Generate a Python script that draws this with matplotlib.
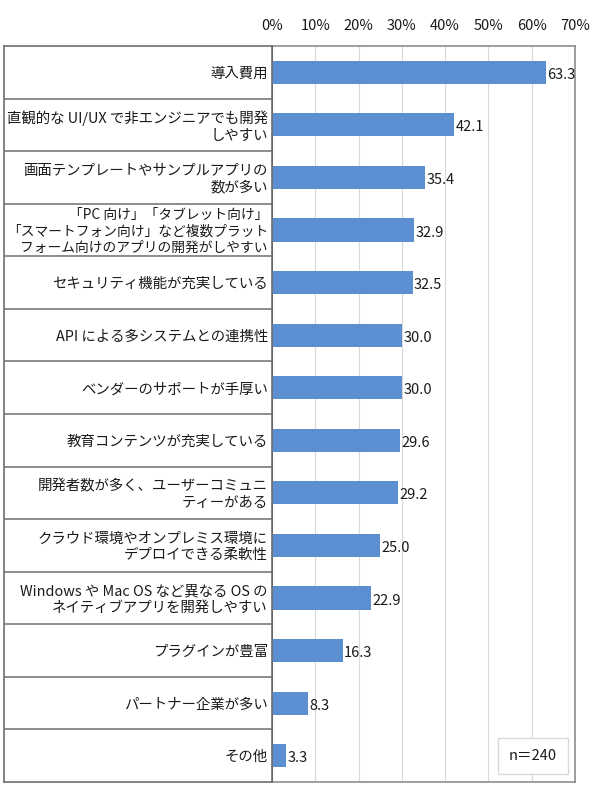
import matplotlib
matplotlib.use("Agg")
import matplotlib.pyplot as plt
import numpy as np

plt.rcParams['font.family'] = ['Noto Sans CJK JP', 'DejaVu Sans']

labels = [
    "導入費用",
    "直観的な UI/UX で非エンジニアでも開発\nしやすい",
    "画面テンプレートやサンプルアプリの\n数が多い",
    "「PC 向け」「タブレット向け」\n「スマートフォン向け」など複数プラット\nフォーム向けのアプリの開発がしやすい",
    "セキュリティ機能が充実している",
    "API による多システムとの連携性",
    "ベンダーのサポートが手厚い",
    "教育コンテンツが充実している",
    "開発者数が多く、ユーザーコミュニ\nティーがある",
    "クラウド環境やオンプレミス環境に\nデプロイできる柔軟性",
    "Windows や Mac OS など異なる OS の\nネイティブアプリを開発しやすい",
    "プラグインが豊富",
    "パートナー企業が多い",
    "その他",
]
values = [63.3, 42.1, 35.4, 32.9, 32.5, 30.0, 30.0, 29.6, 29.2, 25.0, 22.9, 16.3, 8.3, 3.3]
xticks = [0, 10, 20, 30, 40, 50, 60, 70]
note = "n＝240"

BAR_COLOR = '#5b8fd1'
TEXT_COLOR = '#1a1a1a'
W, H = 590, 795

fig = plt.figure(figsize=(W / 100, H / 100), dpi=100)

top_px, bot_px = 46, 782
left_px, mid_px, right_px = 4, 272, 575

ax = fig.add_axes([mid_px / W, 1 - bot_px / H, (right_px - mid_px) / W, (bot_px - top_px) / H])
lab = fig.add_axes([left_px / W, 1 - bot_px / H, (mid_px - left_px) / W, (bot_px - top_px) / H])

n = len(labels)
y = np.arange(n)

# bars
ax.barh(y, values, height=0.44, color=BAR_COLOR, zorder=3)
for yi, v in zip(y, values):
    ax.text(v + 0.3, yi + 0.05, "{:.1f}".format(v), va='center', ha='left',
            fontsize=10.5, color=TEXT_COLOR, zorder=4)

ax.set_xlim(0, 70)
ax.set_ylim(n - 0.5, -0.5)
ax.set_xticks(xticks)
ax.set_xticklabels(["{}%".format(t) for t in xticks])
ax.xaxis.tick_top()
ax.tick_params(axis='x', length=0, pad=9, labelsize=10.5, labelcolor=TEXT_COLOR)
ax.set_yticks([])
ax.grid(axis='x', color='#d9d9d9', linewidth=0.8, zorder=0)
for side in ['top', 'right', 'bottom']:
    ax.spines[side].set_color('#8c8c8c')
    ax.spines[side].set_linewidth(1.2)
ax.spines['left'].set_color('#222222')
ax.spines['left'].set_linewidth(1.2)

ax.text(60.3, 13.0, note, ha='center', va='center', fontsize=10.5, color=TEXT_COLOR,
        bbox=dict(boxstyle='square,pad=0.75', fc='white', ec='#d9d9d9', lw=1), zorder=5)

# label column
lab.set_xlim(0, 1)
lab.set_ylim(n - 0.5, -0.5)
lab.set_xticks([])
lab.set_yticks([])
for s in lab.spines.values():
    s.set_color('#6e6e6e')
    s.set_linewidth(1.2)
for b in np.arange(0.5, n - 1, 1.0):
    lab.axhline(b, color='#8c8c8c', linewidth=1.4)
for yi, t in zip(y, labels):
    size = 9.9 if t.count("\n") > 1 else 10.4
    lab.text(0.985, yi + 0.03, t, ha='right', va='center', multialignment='right',
             fontsize=size, color=TEXT_COLOR, linespacing=1.22)

fig.savefig("out.png", dpi=100)
